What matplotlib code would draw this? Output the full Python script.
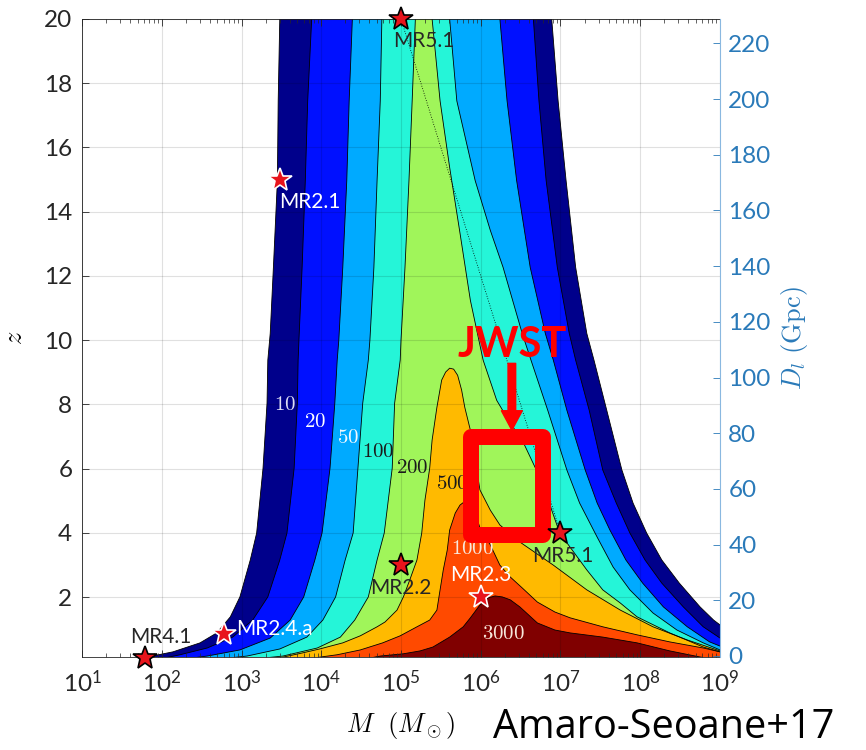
import matplotlib.pyplot as plt
import numpy as np
from matplotlib.patches import Polygon, Rectangle

plt.rcParams['font.family'] = ['Lato', 'DejaVu Sans']
plt.rcParams['mathtext.fontset'] = 'custom'
plt.rcParams['mathtext.rm'] = 'Lato'
plt.rcParams['mathtext.it'] = 'Lato:italic'
plt.rcParams['mathtext.bf'] = 'Lato:bold'

# SNR levels and their fill colours
levels = [10, 20, 50, 100, 200, 500, 1000, 3000]
fill_colors = ['#00008b', '#0010ff', '#00aaff', '#25f5d8', '#a0f55a',
               '#ffba00', '#ff4a00', '#800000']

# open contours (log10 M, z): left edge and right edge, both listed top -> bottom
left_10 = [(3.48, 20.0), (3.46, 17.45), (3.45, 14.97), (3.40, 12.27), (3.36, 10.21), (3.33, 9.38),
           (3.32, 8.04), (3.27, 6.02), (3.19, 4.00), (3.11, 3.16), (2.98, 2.01), (2.86, 1.39),
           (2.69, 0.89), (2.48, 0.58), (2.14, 0.30), (1.82, 0.14), (1.48, 0.05)]
right_10 = [(6.89, 20.0), (6.97, 17.45), (7.07, 14.97), (7.19, 12.27), (7.33, 10.21), (7.42, 9.38),
            (7.58, 7.82), (7.77, 5.96), (7.91, 4.93), (8.08, 4.00), (8.27, 3.16), (8.49, 2.44),
            (8.75, 1.70), (8.92, 1.29), (9.0, 1.14)]

left_20 = [(3.88, 20.0), (3.83, 17.45), (3.80, 14.97), (3.76, 12.27), (3.72, 10.0), (3.71, 9.38),
           (3.70, 8.04), (3.66, 6.02), (3.57, 4.00), (3.48, 3.16), (3.33, 2.01), (3.14, 1.29),
           (2.89, 0.76), (2.57, 0.42), (2.23, 0.21), (1.98, 0.08)]
right_20 = [(6.66, 20.0), (6.73, 17.45), (6.82, 14.97), (6.96, 12.27), (7.11, 10.21), (7.19, 9.38),
            (7.36, 7.82), (7.53, 5.96), (7.70, 4.93), (7.87, 4.00), (8.06, 3.16), (8.27, 2.44),
            (8.54, 1.70), (8.79, 1.08), (9.0, 0.73)]

left_50 = [(4.39, 20.0), (4.35, 17.45), (4.32, 14.97), (4.27, 12.27), (4.22, 10.0), (4.20, 9.38),
           (4.17, 8.04), (4.11, 6.02), (4.01, 4.00), (3.92, 3.16), (3.78, 2.01), (3.61, 1.29),
           (3.36, 0.73), (2.98, 0.36), (2.57, 0.17), (2.29, 0.08)]
right_50 = [(6.24, 20.0), (6.33, 17.45), (6.45, 14.97), (6.62, 12.27), (6.81, 10.21), (6.91, 9.38),
            (7.08, 7.82), (7.31, 5.96), (7.46, 4.93), (7.62, 4.09), (7.82, 3.16), (8.03, 2.44),
            (8.29, 1.70), (8.59, 1.08), (8.87, 0.61), (9.0, 0.48)]

left_100 = [(4.76, 20.0), (4.74, 17.45), (4.70, 14.97), (4.66, 12.27), (4.61, 10.0), (4.59, 9.38),
            (4.52, 8.04), (4.46, 6.02), (4.40, 4.00), (4.30, 3.16), (4.18, 2.01), (4.02, 1.29),
            (3.82, 0.76), (3.48, 0.39), (3.07, 0.17), (2.73, 0.08)]
right_100 = [(5.61, 20.0), (5.70, 17.45), (5.93, 14.97), (6.12, 13.42), (6.28, 12.27), (6.52, 10.21),
             (6.63, 9.38), (6.84, 7.82), (7.08, 5.96), (7.24, 4.93), (7.46, 3.87), (7.66, 2.94),
             (7.87, 2.23), (8.16, 1.51), (8.46, 0.98), (8.79, 0.58), (9.0, 0.36)]

left_200 = [(5.18, 20.0), (5.14, 17.45), (5.10, 14.97), (5.05, 12.27), (5.00, 10.0), (4.99, 9.38),
            (4.92, 8.04), (4.89, 6.02), (4.79, 4.00), (4.70, 3.16), (4.59, 2.01), (4.42, 1.29),
            (4.24, 0.76), (3.95, 0.42), (3.52, 0.17), (3.17, 0.08)]
right_200 = [(5.39, 20.0), (5.49, 17.45), (5.61, 15.38), (5.74, 13.33), (5.87, 11.24), (6.03, 9.38),
             (6.20, 8.13), (6.37, 7.42), (6.52, 6.89), (6.68, 6.05), (6.81, 5.34), (6.89, 4.71),
             (6.99, 4.00), (7.12, 3.56), (7.33, 2.85), (7.53, 2.23), (7.75, 1.82), (7.96, 1.39),
             (8.37, 0.89), (8.79, 0.45), (9.0, 0.30)]

# closed contours: left edge bottom -> peak, right edge peak -> bottom
left_500 = [(3.36, 0.05), (3.77, 0.27), (3.98, 0.39), (4.27, 0.58), (4.49, 0.80), (4.70, 1.08),
            (4.80, 1.23), (4.95, 1.60), (5.03, 2.01), (5.11, 2.54), (5.20, 3.16), (5.26, 4.00),
            (5.30, 5.02), (5.36, 6.02), (5.39, 6.89), (5.45, 7.91), (5.51, 8.76), (5.56, 9.01),
            (5.61, 9.13)]
right_500 = [(5.66, 9.10), (5.71, 8.91), (5.76, 8.45), (5.80, 7.91), (5.87, 7.20), (5.93, 6.27),
             (5.99, 5.34), (6.12, 4.71), (6.24, 4.25), (6.49, 3.72), (6.91, 3.00), (7.33, 2.23),
             (7.75, 1.60), (8.16, 1.08), (8.59, 0.67), (9.0, 0.33)]

left_1000 = [(3.73, 0.05), (4.20, 0.21), (4.49, 0.36), (4.77, 0.58), (4.99, 0.80), (5.20, 1.08),
             (5.36, 1.29), (5.45, 1.60), (5.49, 2.23), (5.53, 2.85), (5.58, 3.47), (5.61, 4.09),
             (5.68, 4.62), (5.74, 4.87), (5.82, 5.02)]
right_1000 = [(5.87, 4.96), (5.92, 4.71), (5.99, 4.16), (6.12, 3.63), (6.24, 3.00), (6.37, 2.63),
              (6.52, 2.29), (6.71, 1.85), (6.93, 1.54), (7.12, 1.36), (7.53, 1.08), (7.96, 0.83),
              (8.37, 0.61), (8.79, 0.42), (9.0, 0.30)]

left_3000 = [(4.49, 0.05), (4.74, 0.17), (5.03, 0.24), (5.24, 0.33), (5.40, 0.45), (5.61, 0.76),
             (5.78, 1.08), (5.87, 1.36), (5.99, 1.76), (6.09, 1.98), (6.18, 2.04)]
right_3000 = [(6.27, 2.01), (6.37, 1.92), (6.49, 1.70), (6.71, 1.20), (6.93, 0.98), (7.12, 0.89),
              (7.53, 0.76), (7.96, 0.58), (8.37, 0.33), (8.75, 0.14), (9.0, 0.05)]

open_edges = [(left_10, right_10), (left_20, right_20), (left_50, right_50),
              (left_100, right_100), (left_200, right_200)]
closed_edges = [(left_500, right_500), (left_1000, right_1000), (left_3000, right_3000)]

# inline contour labels
clabel_text = ['10', '20', '50', '100', '200', '500', '1000', '3000']
clabel_logm = [3.55, 3.92, 4.34, 4.71, 5.14, 5.64, 5.89, 6.28]
clabel_z = [8.0, 7.5, 7.0, 6.55, 6.05, 5.55, 3.52, 0.9]
clabel_color = ['#dcdcf5', 'white', '#f0f8ff', '#1a1a1a', '#1a1a1a', '#1a1a1a', '#f8e8dc', '#f8e8dc']

# sources
src_name = ['MR5.1', 'MR2.1', 'MR2.4.a', 'MR4.1', 'MR2.2', 'MR2.3', 'MR5.1']
src_mass = [1e5, 3e3, 6e2, 62, 1e5, 1e6, 1e7]
src_z = [20, 15, 0.86, 0.11, 3, 2, 4]
src_edge = ['k', 'white', 'white', 'k', 'k', 'white', 'k']
src_label_logm = [5.28, 3.86, 3.41, 1.99, 5.0, 6.0, 7.03]
src_label_z = [19.3, 14.29, 1.01, 0.77, 2.29, 2.69, 3.28]
src_label_color = ['#262626', 'white', 'white', '#262626', '#262626', 'white', '#262626']

# JWST window
jwst_logm = (5.88, 6.78)
jwst_z = (3.94, 7.0)
jwst_arrow_logm = 6.39
jwst_arrow_z = (9.28, 7.2)

dl_ticks = np.arange(0, 221, 20)
blue = '#2a7ab9'

fig = plt.figure(figsize=(8.66, 7.5), dpi=100)
ax = fig.add_axes([0.0947, 0.124, 0.7367, 0.8507])
ax.set_xscale('log')
ax.set_xlim(1e1, 1e9)
ax.set_ylim(0.14, 20)


def to_xy(pts):
    return [(10 ** m, z) for m, z in pts]


for i, (left, right) in enumerate(open_edges):
    pts = (list(left) + [(left[-1][0], -1), (9.5, -1), (9.5, right[-1][1])]
           + list(right[::-1]) + [(right[0][0], 21), (left[0][0], 21)])
    ax.add_patch(Polygon(to_xy(pts), closed=True, fc=fill_colors[i], ec='none', zorder=1))

for j, (left, right) in enumerate(closed_edges):
    pts = list(left) + list(right) + [(9.5, right[-1][1]), (9.5, -1), (left[0][0], -1)]
    ax.add_patch(Polygon(to_xy(pts), closed=True, fc=fill_colors[5 + j], ec='none', zorder=1))

for left, right in open_edges:
    for edge in (left, right):
        m, z = zip(*edge)
        ax.plot(10 ** np.array(m), z, color='k', lw=0.6, zorder=1.5)
for left, right in closed_edges:
    m, z = zip(*(list(left) + list(right)))
    ax.plot(10 ** np.array(m), z, color='k', lw=0.6, zorder=1.5)

for t, m, z, c in zip(clabel_text, clabel_logm, clabel_z, clabel_color):
    ax.text(10 ** m, z, '$' + t + '$', color=c, fontsize=15, ha='center', va='center',
            math_fontfamily='cm', zorder=3)

# track between the two MR5.1 sources
ax.plot([src_mass[0], src_mass[6]], [src_z[0], src_z[6]], color='k', lw=0.6,
        ls=(0, (1, 2)), zorder=1.6)

for m, z, ec in zip(src_mass, src_z, src_edge):
    ax.plot(m, z, marker='*', ms=18, mfc='#e8141c', mec=ec, mew=1.2, clip_on=False, zorder=5)
for name, m, z, c in zip(src_name, src_label_logm, src_label_z, src_label_color):
    ax.text(10 ** m, z, name, color=c, fontsize=15, ha='center', va='center', zorder=5)

# JWST box and arrow
ax.add_patch(Rectangle((10 ** jwst_logm[0], jwst_z[0]), 10 ** jwst_logm[1] - 10 ** jwst_logm[0],
                       jwst_z[1] - jwst_z[0], fill=False, ec='#ff0000', lw=11.5,
                       joinstyle='round', zorder=4))
ax.annotate('', xy=(10 ** jwst_arrow_logm, jwst_arrow_z[1]),
            xytext=(10 ** jwst_arrow_logm, jwst_arrow_z[0]),
            arrowprops=dict(color='#ff0000', width=5.5, headwidth=15, headlength=14, shrink=0),
            zorder=4)
ax.text(10 ** jwst_arrow_logm, 9.84, 'JWST', color='#ff0000', fontsize=30, fontweight='bold',
        ha='center', va='center', zorder=4)

ax.set_axisbelow(False)
ax.grid(True, which='major', color='k', alpha=0.12, lw=0.8)
ax.set_xticks([10.0 ** k for k in range(1, 10)])
ax.set_xticklabels(['$10^{%d}$' % k for k in range(1, 10)])
ax.set_yticks(np.arange(2, 21, 2))
ax.tick_params(which='both', direction='in', top=True, right=False, colors='#262626',
               labelsize=17.5)
ax.tick_params(which='major', length=5, width=0.6)
ax.tick_params(which='minor', length=3, width=0.5)
ax.tick_params(axis='x', pad=9)
ax.tick_params(axis='y', pad=7)
for s in ('left', 'bottom', 'top'):
    ax.spines[s].set_color('#262626')
    ax.spines[s].set_linewidth(0.6)
ax.spines['right'].set_visible(False)

ax.set_xlabel(r'$M\ \ (M_\odot)$', fontsize=19, math_fontfamily='cm', labelpad=10)
ax.set_ylabel(r'$z$', fontsize=19, math_fontfamily='cm', labelpad=12)

ax2 = ax.twinx()
ax2.set_ylim(-0.4, 228.8)
ax2.set_yticks(dl_ticks)
ax2.tick_params(direction='in', colors=blue, labelsize=17.5, length=5, width=0.6, pad=6)
for s in ('left', 'bottom', 'top'):
    ax2.spines[s].set_visible(False)
ax2.spines['right'].set_color('#8ab8e0')
ax2.spines['right'].set_linewidth(0.8)
ax2.set_ylabel(r'$D_l\ (\mathrm{Gpc})$', fontsize=19, color=blue, math_fontfamily='cm',
               rotation=90, labelpad=6)

fig.text(0.569, 0.016, 'Amaro-Seoane+17', fontsize=28.5, color='k', family='Open Sans',
         ha='left', va='baseline')

fig.savefig('out.png', dpi=100)
